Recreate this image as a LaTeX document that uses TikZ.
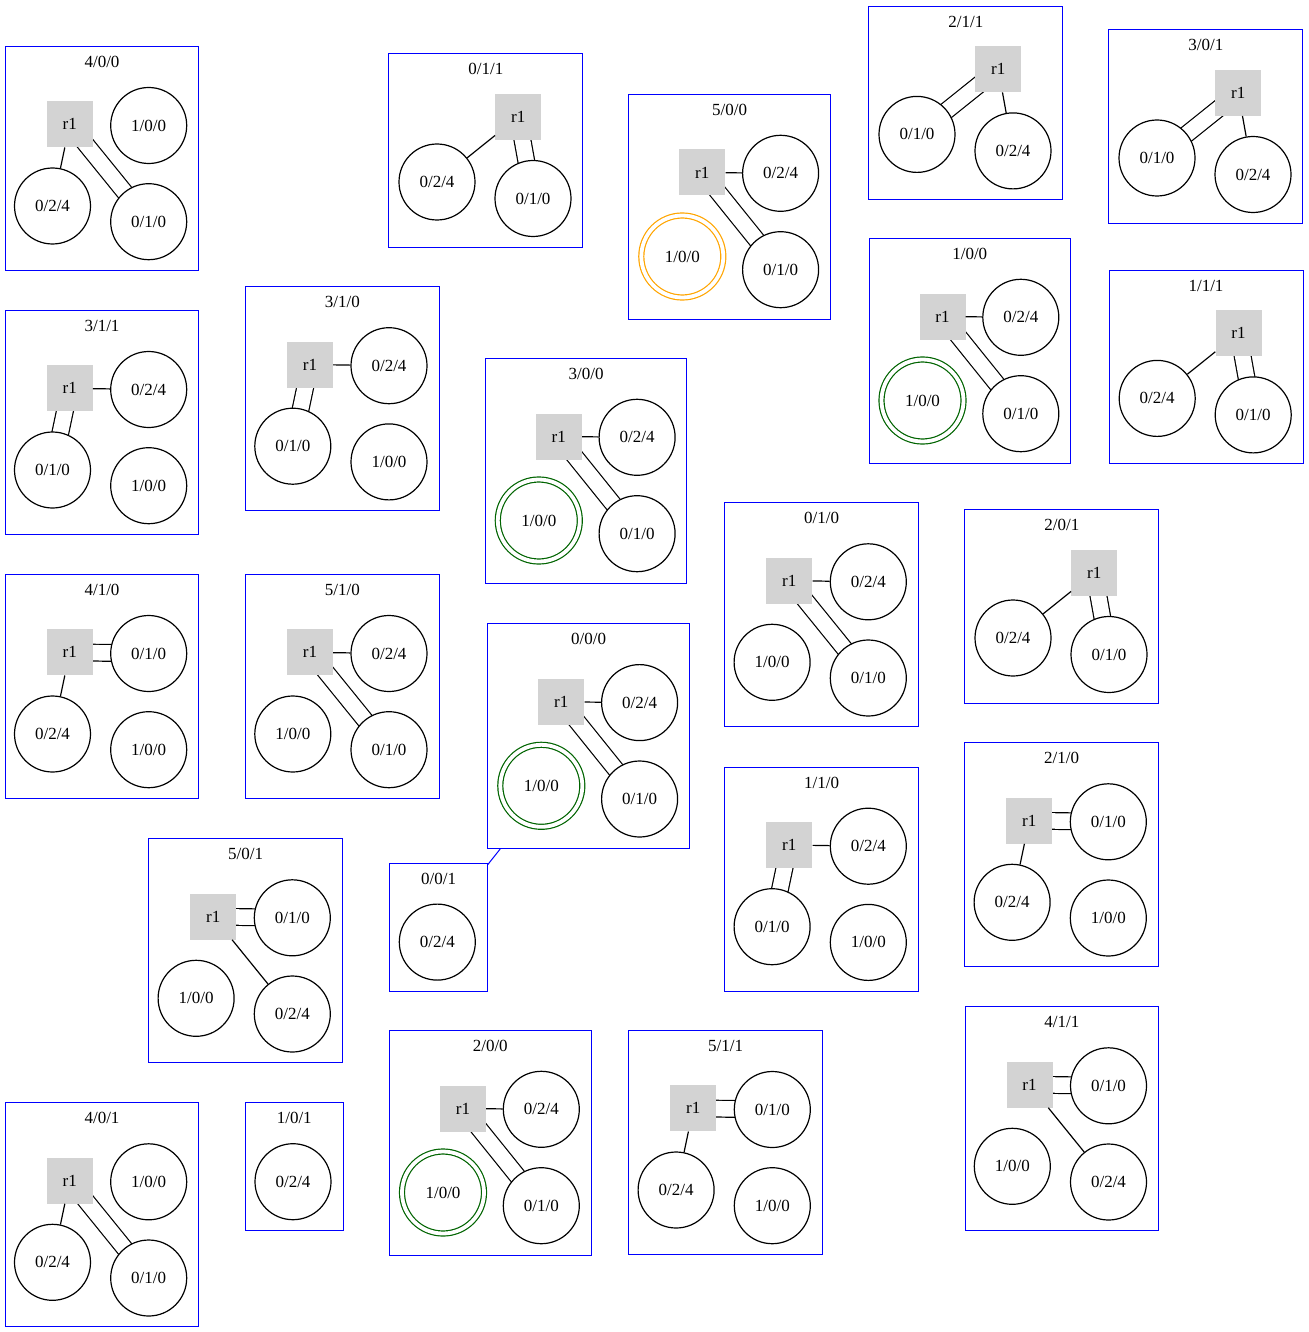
\documentclass[tikz,border=0pt]{standalone}
\usepackage{fontspec}
\setmainfont{Liberation Serif}
\usetikzlibrary{positioning,backgrounds}

\definecolor{gvgray}{RGB}{211,211,211}
\definecolor{gvgreen}{RGB}{0,100,0}
\definecolor{gvorange}{RGB}{255,165,0}

\begin{document}
\begin{tikzpicture}[
  x=1pt, y=-1pt,
  every node/.style={font=\fontsize{17}{20}\selectfont},
  cluster/.style={rectangle, draw=blue, line width=1pt, inner sep=0pt, anchor=north west},
  router/.style={rectangle, fill=gvgray, minimum size=46pt, inner sep=0pt},
  port/.style={circle, draw, line width=1.2pt, fill=white, minimum size=76pt, inner sep=0pt},
  seen/.style={port, draw=#1, double=white, double distance=3.8pt, minimum size=82pt},
  link/.style={line width=1.2pt},
  twin/.style={line width=1.2pt, double=white, double distance=15.5pt}
]
\useasboundingbox (0,0) rectangle (1308,1332);

% 4/0/0
\begin{scope}[shift={(4.7,46)}]
\node[cluster, minimum width=193.6pt, minimum height=224pt] (box_400) at (0,0) {};
\node (title_400) at ([yshift=-16pt]box_400.north) {4/0/0};
\node[router] (r1_400) at (65,78.3) {r1};
\node[port] (n100_400) at (144,79.5) {1/0/0};
\node[port] (n024_400) at (47.8,160) {0/2/4};
\node[port] (n010_400) at (144,175.7) {0/1/0};
\draw[link] (r1_400) -- (n024_400);
\begin{scope}[on background layer]
\draw[twin] (r1_400.center) -- (n010_400.center);
\end{scope}
\end{scope}

% 4/0/1
\begin{scope}[shift={(4.7,1102.3)}]
\node[cluster, minimum width=193.6pt, minimum height=224pt] (box_401) at (0,0) {};
\node (title_401) at ([yshift=-16pt]box_401.north) {4/0/1};
\node[router] (r1_401) at (65,78.3) {r1};
\node[port] (n100_401) at (144,79.5) {1/0/0};
\node[port] (n024_401) at (47.8,160) {0/2/4};
\node[port] (n010_401) at (144,175.7) {0/1/0};
\draw[link] (r1_401) -- (n024_401);
\begin{scope}[on background layer]
\draw[twin] (r1_401.center) -- (n010_401.center);
\end{scope}
\end{scope}

% 3/1/1
\begin{scope}[shift={(4.7,310)}]
\node[cluster, minimum width=193.6pt, minimum height=224pt] (box_311) at (0,0) {};
\node (title_311) at ([yshift=-16pt]box_311.north) {3/1/1};
\node[router] (r1_311) at (65,78.3) {r1};
\node[port] (n024_311) at (144,79.5) {0/2/4};
\node[port] (n010_311) at (47.8,160) {0/1/0};
\node[port] (n100_311) at (144,175.7) {1/0/0};
\draw[link] (r1_311) -- (n024_311);
\begin{scope}[on background layer]
\draw[twin] (r1_311.center) -- (n010_311.center);
\end{scope}
\end{scope}

% 3/1/0
\begin{scope}[shift={(245,286.2)}]
\node[cluster, minimum width=193.6pt, minimum height=224pt] (box_310) at (0,0) {};
\node (title_310) at ([yshift=-16pt]box_310.north) {3/1/0};
\node[router] (r1_310) at (65,78.3) {r1};
\node[port] (n024_310) at (144,79.5) {0/2/4};
\node[port] (n010_310) at (47.8,160) {0/1/0};
\node[port] (n100_310) at (144,175.7) {1/0/0};
\draw[link] (r1_310) -- (n024_310);
\begin{scope}[on background layer]
\draw[twin] (r1_310.center) -- (n010_310.center);
\end{scope}
\end{scope}

% 1/1/0
\begin{scope}[shift={(724.3,766.7)}]
\node[cluster, minimum width=193.6pt, minimum height=224pt] (box_110) at (0,0) {};
\node (title_110) at ([yshift=-16pt]box_110.north) {1/1/0};
\node[router] (r1_110) at (65,78.3) {r1};
\node[port] (n024_110) at (144,79.5) {0/2/4};
\node[port] (n010_110) at (47.8,160) {0/1/0};
\node[port] (n100_110) at (144,175.7) {1/0/0};
\draw[link] (r1_110) -- (n024_110);
\begin{scope}[on background layer]
\draw[twin] (r1_110.center) -- (n010_110.center);
\end{scope}
\end{scope}

% 4/1/0
\begin{scope}[shift={(4.7,574)}]
\node[cluster, minimum width=193.6pt, minimum height=224pt] (box_410) at (0,0) {};
\node (title_410) at ([yshift=-16pt]box_410.north) {4/1/0};
\node[router] (r1_410) at (65,78.3) {r1};
\node[port] (n010_410) at (144,79.5) {0/1/0};
\node[port] (n024_410) at (47.8,160) {0/2/4};
\node[port] (n100_410) at (144,175.7) {1/0/0};
\draw[link] (r1_410) -- (n024_410);
\begin{scope}[on background layer]
\draw[twin] (r1_410.center) -- (n010_410.center);
\end{scope}
\end{scope}

% 2/1/0
\begin{scope}[shift={(964.3,742.3)}]
\node[cluster, minimum width=193.6pt, minimum height=224pt] (box_210) at (0,0) {};
\node (title_210) at ([yshift=-16pt]box_210.north) {2/1/0};
\node[router] (r1_210) at (65,78.3) {r1};
\node[port] (n010_210) at (144,79.5) {0/1/0};
\node[port] (n024_210) at (47.8,160) {0/2/4};
\node[port] (n100_210) at (144,175.7) {1/0/0};
\draw[link] (r1_210) -- (n024_210);
\begin{scope}[on background layer]
\draw[twin] (r1_210.center) -- (n010_210.center);
\end{scope}
\end{scope}

% 5/1/1
\begin{scope}[shift={(628.3,1030)}]
\node[cluster, minimum width=193.6pt, minimum height=224pt] (box_511) at (0,0) {};
\node (title_511) at ([yshift=-16pt]box_511.north) {5/1/1};
\node[router] (r1_511) at (65,78.3) {r1};
\node[port] (n010_511) at (144,79.5) {0/1/0};
\node[port] (n024_511) at (47.8,160) {0/2/4};
\node[port] (n100_511) at (144,175.7) {1/0/0};
\draw[link] (r1_511) -- (n024_511);
\begin{scope}[on background layer]
\draw[twin] (r1_511.center) -- (n010_511.center);
\end{scope}
\end{scope}

% 5/0/1
\begin{scope}[shift={(148.3,838.3)}]
\node[cluster, minimum width=193.6pt, minimum height=224pt] (box_501) at (0,0) {};
\node (title_501) at ([yshift=-16pt]box_501.north) {5/0/1};
\node[router] (r1_501) at (65,78.3) {r1};
\node[port] (n010_501) at (144,79.5) {0/1/0};
\node[port] (n100_501) at (47.8,160) {1/0/0};
\node[port] (n024_501) at (144,175.7) {0/2/4};
\draw[link] (r1_501) -- (n024_501);
\begin{scope}[on background layer]
\draw[twin] (r1_501.center) -- (n010_501.center);
\end{scope}
\end{scope}

% 4/1/1
\begin{scope}[shift={(964.5,1006.3)}]
\node[cluster, minimum width=193.6pt, minimum height=224pt] (box_411) at (0,0) {};
\node (title_411) at ([yshift=-16pt]box_411.north) {4/1/1};
\node[router] (r1_411) at (65,78.3) {r1};
\node[port] (n010_411) at (144,79.5) {0/1/0};
\node[port] (n100_411) at (47.8,160) {1/0/0};
\node[port] (n024_411) at (144,175.7) {0/2/4};
\draw[link] (r1_411) -- (n024_411);
\begin{scope}[on background layer]
\draw[twin] (r1_411.center) -- (n010_411.center);
\end{scope}
\end{scope}

% 5/1/0
\begin{scope}[shift={(245,574)}]
\node[cluster, minimum width=193.6pt, minimum height=224pt] (box_510) at (0,0) {};
\node (title_510) at ([yshift=-16pt]box_510.north) {5/1/0};
\node[router] (r1_510) at (65,78.3) {r1};
\node[port] (n024_510) at (144,79.5) {0/2/4};
\node[port] (n100_510) at (47.8,160) {1/0/0};
\node[port] (n010_510) at (144,175.7) {0/1/0};
\draw[link] (r1_510) -- (n024_510);
\begin{scope}[on background layer]
\draw[twin] (r1_510.center) -- (n010_510.center);
\end{scope}
\end{scope}

% 0/1/0
\begin{scope}[shift={(724.3,502.3)}]
\node[cluster, minimum width=193.6pt, minimum height=224pt] (box_010) at (0,0) {};
\node (title_010) at ([yshift=-16pt]box_010.north) {0/1/0};
\node[router] (r1_010) at (65,78.3) {r1};
\node[port] (n024_010) at (144,79.5) {0/2/4};
\node[port] (n100_010) at (47.8,160) {1/0/0};
\node[port] (n010_010) at (144,175.7) {0/1/0};
\draw[link] (r1_010) -- (n024_010);
\begin{scope}[on background layer]
\draw[twin] (r1_010.center) -- (n010_010.center);
\end{scope}
\end{scope}

% 0/1/1
\begin{scope}[shift={(388.3,53.3)}]
\node[cluster, minimum width=194pt, minimum height=193.3pt] (box_011) at (0,0) {};
\node (title_011) at ([yshift=-16pt]box_011.north) {0/1/1};
\node[router] (r1_011) at (130,63.5) {r1};
\node[port] (n024_011) at (48.7,128.7) {0/2/4};
\node[port] (n010_011) at (144.7,145.2) {0/1/0};
\draw[link] (r1_011) -- (n024_011);
\begin{scope}[on background layer]
\draw[twin] (r1_011.center) -- (n010_011.center);
\end{scope}
\end{scope}

% 2/0/1
\begin{scope}[shift={(964.3,509.3)}]
\node[cluster, minimum width=194pt, minimum height=193.3pt] (box_201) at (0,0) {};
\node (title_201) at ([yshift=-16pt]box_201.north) {2/0/1};
\node[router] (r1_201) at (130,63.5) {r1};
\node[port] (n024_201) at (48.7,128.7) {0/2/4};
\node[port] (n010_201) at (144.7,145.2) {0/1/0};
\draw[link] (r1_201) -- (n024_201);
\begin{scope}[on background layer]
\draw[twin] (r1_201.center) -- (n010_201.center);
\end{scope}
\end{scope}

% 1/1/1
\begin{scope}[shift={(1108.5,269.7)}]
\node[cluster, minimum width=194pt, minimum height=193.3pt] (box_111) at (0,0) {};
\node (title_111) at ([yshift=-16pt]box_111.north) {1/1/1};
\node[router] (r1_111) at (130,63.5) {r1};
\node[port] (n024_111) at (48.7,128.7) {0/2/4};
\node[port] (n010_111) at (144.7,145.2) {0/1/0};
\draw[link] (r1_111) -- (n024_111);
\begin{scope}[on background layer]
\draw[twin] (r1_111.center) -- (n010_111.center);
\end{scope}
\end{scope}

% 2/1/1
\begin{scope}[shift={(868.3,5.7)}]
\node[cluster, minimum width=194pt, minimum height=193.3pt] (box_211) at (0,0) {};
\node (title_211) at ([yshift=-16pt]box_211.north) {2/1/1};
\node[router] (r1_211) at (130,63.5) {r1};
\node[port] (n010_211) at (48.7,128.7) {0/1/0};
\node[port] (n024_211) at (144.7,145.2) {0/2/4};
\draw[link] (r1_211) -- (n024_211);
\begin{scope}[on background layer]
\draw[twin] (r1_211.center) -- (n010_211.center);
\end{scope}
\end{scope}

% 3/0/1
\begin{scope}[shift={(1108.3,29.3)}]
\node[cluster, minimum width=194pt, minimum height=193.3pt] (box_301) at (0,0) {};
\node (title_301) at ([yshift=-16pt]box_301.north) {3/0/1};
\node[router] (r1_301) at (130,63.5) {r1};
\node[port] (n010_301) at (48.7,128.7) {0/1/0};
\node[port] (n024_301) at (144.7,145.2) {0/2/4};
\draw[link] (r1_301) -- (n024_301);
\begin{scope}[on background layer]
\draw[twin] (r1_301.center) -- (n010_301.center);
\end{scope}
\end{scope}

% 5/0/0
\begin{scope}[shift={(628.3,94)}]
\node[cluster, minimum width=201.5pt, minimum height=224.5pt] (box_500) at (0,0) {};
\node (title_500) at ([yshift=-16pt]box_500.north) {5/0/0};
\node[router] (r1_500) at (74,78.5) {r1};
\node[port] (n024_500) at (152.3,79.3) {0/2/4};
\node[seen=gvorange] (n100_500) at (54,162.5) {1/0/0};
\node[port] (n010_500) at (152.3,175.7) {0/1/0};
\draw[link] (r1_500) -- (n024_500);
\begin{scope}[on background layer]
\draw[twin] (r1_500.center) -- (n010_500.center);
\end{scope}
\end{scope}

% 1/0/0
\begin{scope}[shift={(868.5,238)}]
\node[cluster, minimum width=201.5pt, minimum height=224.5pt] (box_100) at (0,0) {};
\node (title_100) at ([yshift=-16pt]box_100.north) {1/0/0};
\node[router] (r1_100) at (74,78.5) {r1};
\node[port] (n024_100) at (152.3,79.3) {0/2/4};
\node[seen=gvgreen] (n100_100) at (54,162.5) {1/0/0};
\node[port] (n010_100) at (152.3,175.7) {0/1/0};
\draw[link] (r1_100) -- (n024_100);
\begin{scope}[on background layer]
\draw[twin] (r1_100.center) -- (n010_100.center);
\end{scope}
\end{scope}

% 3/0/0
\begin{scope}[shift={(484.8,358)}]
\node[cluster, minimum width=201.5pt, minimum height=224.5pt] (box_300) at (0,0) {};
\node (title_300) at ([yshift=-16pt]box_300.north) {3/0/0};
\node[router] (r1_300) at (74,78.5) {r1};
\node[port] (n024_300) at (152.3,79.3) {0/2/4};
\node[seen=gvgreen] (n100_300) at (54,162.5) {1/0/0};
\node[port] (n010_300) at (152.3,175.7) {0/1/0};
\draw[link] (r1_300) -- (n024_300);
\begin{scope}[on background layer]
\draw[twin] (r1_300.center) -- (n010_300.center);
\end{scope}
\end{scope}

% 0/0/0
\begin{scope}[shift={(487.3,623.3)}]
\node[cluster, minimum width=201.5pt, minimum height=224.5pt] (box_000) at (0,0) {};
\node (title_000) at ([yshift=-16pt]box_000.north) {0/0/0};
\node[router] (r1_000) at (74,78.5) {r1};
\node[port] (n024_000) at (152.3,79.3) {0/2/4};
\node[seen=gvgreen] (n100_000) at (54,162.5) {1/0/0};
\node[port] (n010_000) at (152.3,175.7) {0/1/0};
\draw[link] (r1_000) -- (n024_000);
\begin{scope}[on background layer]
\draw[twin] (r1_000.center) -- (n010_000.center);
\end{scope}
\end{scope}

% 2/0/0
\begin{scope}[shift={(389,1030)}]
\node[cluster, minimum width=201.5pt, minimum height=224.5pt] (box_200) at (0,0) {};
\node (title_200) at ([yshift=-16pt]box_200.north) {2/0/0};
\node[router] (r1_200) at (74,78.5) {r1};
\node[port] (n024_200) at (152.3,79.3) {0/2/4};
\node[seen=gvgreen] (n100_200) at (54,162.5) {1/0/0};
\node[port] (n010_200) at (152.3,175.7) {0/1/0};
\draw[link] (r1_200) -- (n024_200);
\begin{scope}[on background layer]
\draw[twin] (r1_200.center) -- (n010_200.center);
\end{scope}
\end{scope}

% 0/0/1
\begin{scope}[shift={(389.3,862.7)}]
\node[cluster, minimum width=97.5pt, minimum height=128pt] (box_001) at (0,0) {};
\node (title_001) at ([yshift=-16pt]box_001.north) {0/0/1};
\node[port] (n024_001) at (48,79.4) {0/2/4};
\end{scope}

% 1/0/1
\begin{scope}[shift={(245,1102.3)}]
\node[cluster, minimum width=97.5pt, minimum height=128pt] (box_101) at (0,0) {};
\node (title_101) at ([yshift=-16pt]box_101.north) {1/0/1};
\node[port] (n024_101) at (48,79.4) {0/2/4};
\end{scope}

% cluster to cluster
\draw[line width=1pt, blue] (box_000) -- (box_001);

\end{tikzpicture}
\end{document}
